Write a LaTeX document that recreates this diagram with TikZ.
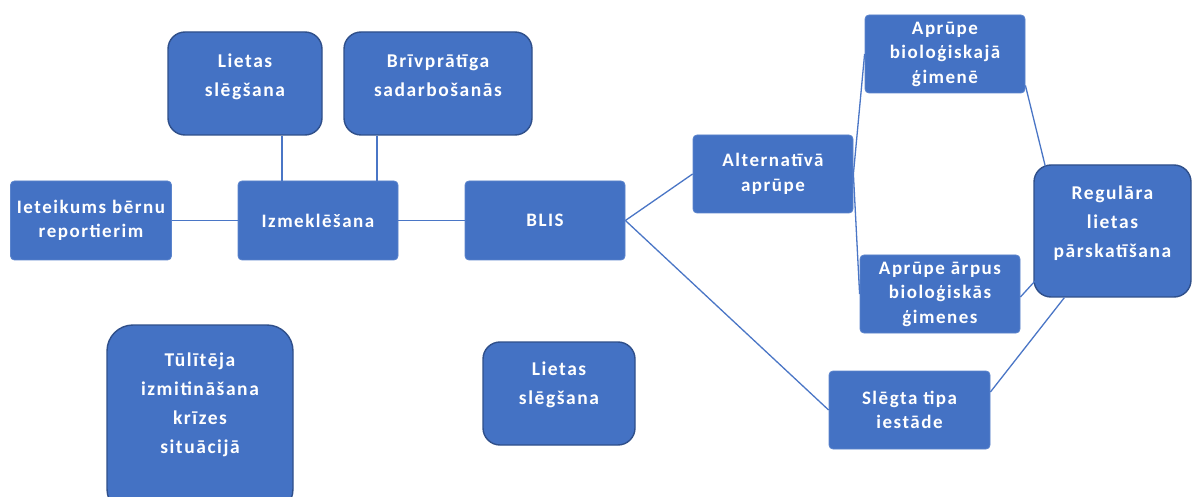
\documentclass[tikz,border=0pt]{standalone}
\usepackage{fontspec}
\setmainfont[LetterSpace=8]{Carlito}
\definecolor{boxfill}{HTML}{4472C4}
\definecolor{boxedge}{HTML}{5B84CC}
\definecolor{darkedge}{HTML}{2F4F8A}
\definecolor{linkcol}{HTML}{4A76C6}
\newcommand\smallfont{\fontsize{19}{24.5}\selectfont\bfseries}
\newcommand\bigfont{\fontsize{19.5}{29}\selectfont\bfseries}
\tikzset{
  box/.style={draw=boxedge, fill=boxfill, rounded corners=4pt, text=white,
    align=center, inner sep=0pt, line width=0.8pt, font=\smallfont},
  rbox/.style={box, draw=darkedge, line width=1.4pt, rounded corners=17pt, font=\bigfont},
  link/.style={draw=linkcol, line width=1.3pt}
}
\begin{document}
\begin{tikzpicture}[x=1pt,y=-1pt]
\useasboundingbox (0,0) rectangle (1192,497);
\fill[white] (0,0) rectangle (1192,497);
\clip (0,0) rectangle (1192,497);

\node[box, minimum width=161pt, minimum height=79pt] (iet) at (91,220.5) {Ieteikums bērnu\\reportierim};
\node[box, minimum width=160pt, minimum height=79pt] (izm) at (318,220.5) {Izmeklēšana};
\node[box, minimum width=160pt, minimum height=79pt] (blis) at (545,220.5) {BLIS};
\node[rbox, minimum width=154pt, minimum height=103pt, text depth=16pt] (lie1) at (245,83.5) {Lietas\\slēgšana};
\node[rbox, minimum width=188pt, minimum height=103pt, text depth=16pt] (briv) at (438,83.5) {Brīvprātīga\\sadarbošanās};
\node[box, minimum width=160pt, minimum height=78pt] (alt) at (773,174) {Alternatīvā\\aprūpe};
\node[box, minimum width=160pt, minimum height=78pt] (bio) at (945,54) {Aprūpe\\bioloģiskajā\\ģimenē};
\node[box, minimum width=160pt, minimum height=78pt] (arp) at (940,294) {Aprūpe ārpus\\bioloģiskās\\ģimenes};
\node[rbox, minimum width=157pt, minimum height=132pt, text depth=18pt] (reg) at (1112.5,231) {Regulāra\\lietas\\pārskatīšana};
\node[box, minimum width=161pt, minimum height=78pt] (sle) at (909.5,410) {Slēgta tipa\\iestāde};
\node[rbox, minimum width=152pt, minimum height=103pt, text depth=20pt] (lie2) at (559,393.5) {Lietas\\slēgšana};
\node[rbox, minimum width=186pt, minimum height=190pt, text depth=34pt, rounded corners=26pt] (tul) at (200,420) {Tūlītēja\\izmitināšana\\krīzes\\situācijā};

\draw[link] (iet) -- (izm);
\draw[link] ([xshift=37pt]lie1.south) -- ([xshift=-36pt]izm.north);
\draw[link] ([xshift=-61pt]briv.south) -- ([xshift=59pt]izm.north);
\draw[link] (izm) -- (blis);
\draw[link] (blis.east) -- (alt.west);
\draw[link] (blis.east) -- (sle.west);
\draw[link] (alt.east) -- (bio.west);
\draw[link] (alt.east) -- (arp.west);
\draw[link] ([yshift=8pt]bio.south east) -- ([xshift=12pt,yshift=-2pt]reg.north west);
\draw[link] ([yshift=-3pt]arp.east) -- ([xshift=2pt,yshift=17pt]reg.south west);
\draw[link] ([yshift=18pt]sle.east) -- ([xshift=31pt]reg.south west);
\end{tikzpicture}
\end{document}
